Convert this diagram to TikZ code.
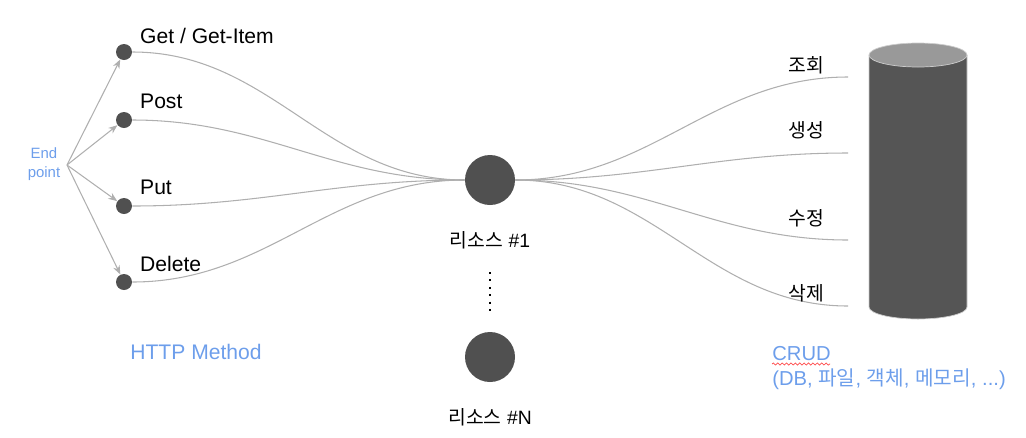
\documentclass[tikz,border=0pt]{standalone}
\usepackage{fontspec}
\setmainfont{Liberation Sans}
\newfontfamily\krfont{Noto Sans CJK KR}
\usetikzlibrary{arrows.meta,positioning,decorations.pathmorphing}
\definecolor{dotgray}{RGB}{80,80,80}
\definecolor{linegray}{RGB}{175,175,175}
\definecolor{epblue}{RGB}{109,158,235}
\definecolor{cyltop}{RGB}{153,153,153}
\definecolor{cylbody}{RGB}{85,85,85}

\begin{document}
\begin{tikzpicture}[x=0.02cm, y=-0.02cm,
  dotnode/.style={circle, fill=dotgray, inner sep=0pt, minimum size=0.32cm},
  resnode/.style={circle, fill=dotgray, inner sep=0pt, minimum size=1cm},
  methodlabel/.style={font=\fontsize{12}{14}\selectfont, anchor=west},
  crudlabel/.style={font=\fontsize{11}{13}\selectfont},
  wire/.style={linegray, line width=0.6pt}]
\useasboundingbox (0,0) rectangle (1026,437);
% End point and methods
\node[font=\fontsize{8.5}{10.5}\selectfont, epblue, align=center] (ep) at (44,164) {End\\point};
\coordinate (epo) at (67,165);
\node[dotnode] (m1) at (124,52) {};
\node[dotnode] (m2) at (124,120) {};
\node[dotnode] (m3) at (124,206) {};
\node[dotnode] (m4) at (124,282) {};
\node[methodlabel] (l1) at (134,36) {Get / Get-Item};
\node[methodlabel] (l2) at (134,101) {Post};
\node[methodlabel] (l3) at (134,187) {Put};
\node[methodlabel] (l4) at (134,264) {Delete};
% Arrows
\draw[-{Stealth[length=1.8mm, width=1.4mm]}, linegray, line width=0.6pt] (epo) -- (m1);
\draw[-{Stealth[length=1.8mm, width=1.4mm]}, linegray, line width=0.6pt] (epo) -- (m2);
\draw[-{Stealth[length=1.8mm, width=1.4mm]}, linegray, line width=0.6pt] (epo) -- (m3);
\draw[-{Stealth[length=1.8mm, width=1.4mm]}, linegray, line width=0.6pt] (epo) -- (m4);
% Resources
\node[resnode] (r1) at (490,180) {};
\node[crudlabel, below=0.4cm of r1] (rl1) {{\krfont 리소스} \#1};
\node[resnode] (rn) at (490,357) {};
\node[crudlabel, below=0.4cm of rn] (rln) {{\krfont 리소스} \#N};
\coordinate (d1) at (490,272);
\coordinate (d2) at (490,312);
\draw[line width=1.1pt, dash pattern=on 1.2pt off 3pt] (d1) -- (d2);
% Curves to resource
\draw[wire] (m1) to[out=0, in=180] (r1);
\draw[wire] (m2) to[out=0, in=180] (r1);
\draw[wire] (m3) to[out=0, in=180] (r1);
\draw[wire] (m4) to[out=0, in=180] (r1);
% Curves to storage
\coordinate (c1) at (848,77);
\coordinate (c2) at (848,153);
\coordinate (c3) at (848,240);
\coordinate (c4) at (848,306);
\draw[wire] (r1) to[out=0, in=180] (c1);
\draw[wire] (r1) to[out=0, in=180] (c2);
\draw[wire] (r1) to[out=0, in=180] (c3);
\draw[wire] (r1) to[out=0, in=180] (c4);
\node[crudlabel, font=\krfont\fontsize{11}{13}\selectfont] (k1) at (806,65) {조회};
\node[crudlabel, font=\krfont\fontsize{11}{13}\selectfont] (k2) at (806,130) {생성};
\node[crudlabel, font=\krfont\fontsize{11}{13}\selectfont] (k3) at (806,218) {수정};
\node[crudlabel, font=\krfont\fontsize{11}{13}\selectfont] (k4) at (806,293) {삭제};
% Cylinder
\fill[cylbody] (869,55) -- (869,307) arc[start angle=180, end angle=0, x radius=49, y radius=12] -- (967,55) -- cycle;
\draw[gray!40, line width=0.4pt] (869,55) -- (869,307) arc[start angle=180, end angle=0, x radius=49, y radius=12] -- (967,55);
\draw[fill=cyltop, draw=gray!40, line width=0.4pt] (918,55) ellipse[x radius=49, y radius=12];
% Captions
\node[font=\fontsize{12}{14}\selectfont, epblue] (hm) at (196,352) {HTTP Method};
\node[font=\fontsize{11.5}{14.2}\selectfont, epblue, anchor=base west, align=left, inner sep=0pt] (crud) at (772,385) {CRUD\\(DB, {\krfont 파일}, {\krfont 객체}, {\krfont 메모리}, ...)};
\draw[red!70, line width=0.4pt, decorate, decoration={snake, amplitude=0.6pt, segment length=2.5pt}] (772,364) -- (830,364);
\end{tikzpicture}
\end{document}
